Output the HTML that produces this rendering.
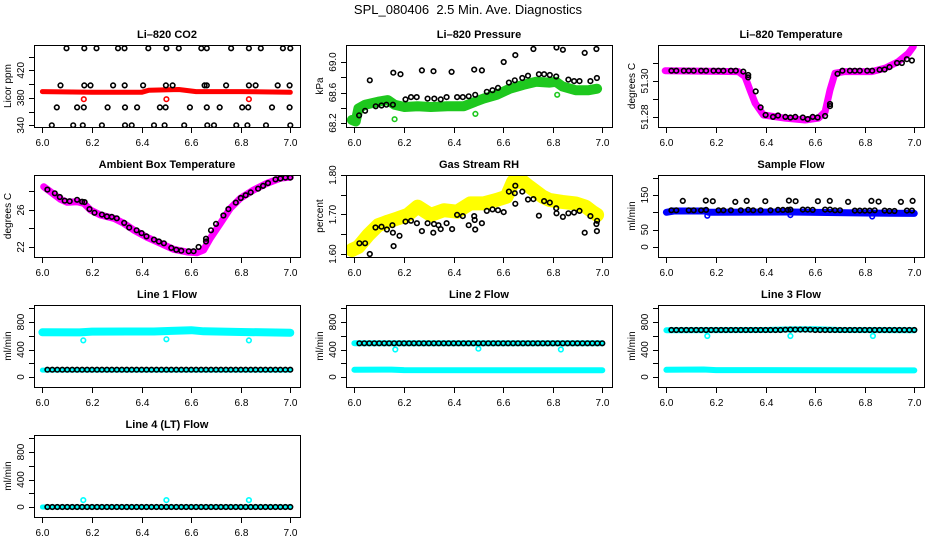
<!DOCTYPE html>
<html><head><meta charset="utf-8"><style>
html,body{margin:0;padding:0;background:#fff;}
svg{display:block;font-family:"Liberation Sans",sans-serif;}
</style></head><body>
<svg id="chart" width="936" height="540" viewBox="0 0 936 540">
<text x="468" y="14" font-size="13" text-anchor="middle" style="white-space:pre" xml:space="preserve">SPL_080406  2.5 Min. Ave. Diagnostics</text>
</svg>
<script>
// ---------- shared axis data ----------
const xTicks = [6.0, 6.2, 6.4, 6.6, 6.8, 7.0];
const xTickLabels = ["6.0", "6.2", "6.4", "6.6", "6.8", "7.0"];

// ---------- Li-820 CO2 ----------
const co2BlackX = [6.097,6.169,6.218,6.305,6.331,6.427,6.500,6.550,6.641,6.663,6.761,6.833,6.881,6.970,7.000,
  6.073,6.169,6.194,6.285,6.332,6.406,6.498,6.525,6.654,6.663,6.741,6.833,6.860,6.949,6.997,
  6.058,6.140,6.167,6.263,6.333,6.382,6.474,6.497,6.595,6.663,6.715,6.806,6.830,6.926,6.997,
  6.038,6.124,6.163,6.240,6.333,6.360,6.450,6.493,6.572,6.665,6.692,6.782,6.827,6.902,7.000];
const co2BlackY = [452,452,452,452,452,452,452,452,452,452,452,452,452,452,452,
  398,398,398,398,398,398,398,398,398,398,398,398,398,398,398,
  366,366,366,366,366,366,366,366,366,366,366,366,366,366,366,
  340,340,340,340,340,340,340,340,340,340,340,340,340,340,340];
const co2BandX = [6.0, 6.2, 6.4, 6.43, 6.55, 6.62, 6.8, 7.0];
const co2BandY = [389, 388, 388, 391, 392, 389, 389, 388];
const co2OutX = [6.167, 6.5, 6.833];
const co2OutY = [378, 378, 378];

// ---------- Li-820 Pressure ----------
const presBandX = [5.99,6.005,6.016,6.043,6.096,6.135,6.162,6.202,6.255,6.308,6.375,6.441,6.487,6.521,6.574,6.627,6.680,6.733,6.786,6.813,6.839,6.892,6.945,6.979];
const presBandY = [68.24,68.22,68.39,68.44,68.48,68.50,68.44,68.41,68.42,68.41,68.42,68.42,68.48,68.52,68.57,68.65,68.70,68.74,68.73,68.74,68.68,68.63,68.63,68.65];
const presBlackX = [6.019,6.043,6.062,6.086,6.109,6.129,6.155,6.157,6.186,6.206,6.228,6.251,6.272,6.295,6.319,6.322,6.348,6.372,6.392,6.414,6.437,6.461,6.483,6.487,6.514,6.534,6.557,6.579,6.602,6.623,6.647,6.649,6.677,6.700,6.722,6.744,6.765,6.788,6.814,6.815,6.841,6.863,6.886,6.908,6.929,6.952,6.976,6.978];
const presBlackY = [68.30,68.36,68.76,68.42,68.43,68.44,68.44,68.86,68.84,68.51,68.54,68.54,68.89,68.52,68.88,68.52,68.51,68.54,68.87,68.54,68.54,68.55,68.90,68.57,68.89,68.61,68.63,68.66,69.00,68.73,68.76,69.09,68.79,68.82,69.17,68.84,68.84,68.83,68.81,69.19,69.16,68.77,68.75,68.75,69.12,68.75,69.17,68.79];
const presOutX = [6.162, 6.488, 6.818];
const presOutY = [68.25, 68.32, 68.57];

// ---------- Li-820 Temperature ----------
const tempBandX = [5.995,6.290,6.317,6.337,6.358,6.391,6.479,6.559,6.613,6.640,6.660,6.680,6.720,6.828,6.882,6.935,6.976,6.996];
const tempBandY = [51.3057,51.3052,51.3024,51.2950,51.2876,51.2811,51.2793,51.2783,51.2793,51.2829,51.2950,51.3043,51.3052,51.3052,51.3071,51.3107,51.3154,51.3191];
const tempBlackX = [6.02,6.04,6.07,6.09,6.11,6.14,6.16,6.19,6.21,6.23,6.26,6.28,6.31,6.33,6.33,6.36,6.38,6.40,6.43,6.45,6.48,6.50,6.52,6.55,6.57,6.59,6.61,6.64,6.66,6.66,6.69,6.71,6.74,6.76,6.78,6.81,6.83,6.86,6.88,6.90,6.93,6.95,6.97,6.99];
const tempBlackY = [51.3057,51.3057,51.3057,51.3057,51.3057,51.3057,51.3057,51.3057,51.3057,51.3057,51.3057,51.3057,51.3052,51.3033,51.3020,51.2942,51.2853,51.2811,51.2800,51.2808,51.2800,51.2797,51.2800,51.2797,51.2788,51.2800,51.2797,51.2805,51.2872,51.2860,51.3040,51.3057,51.3057,51.3057,51.3057,51.3057,51.3057,51.3062,51.3064,51.3077,51.3100,51.3100,51.3121,51.3114];

// ---------- Ambient Box Temperature ----------
const ambBandX = [6.005,6.032,6.073,6.100,6.140,6.167,6.194,6.234,6.288,6.328,6.368,6.422,6.476,6.529,6.583,6.624,6.650,6.677,6.718,6.758,6.798,6.852,6.906,6.960,7.000];
const ambBandY = [28.52,27.98,27.15,26.83,26.90,26.72,26.00,25.46,25.10,24.56,23.84,23.05,22.40,21.75,21.46,21.38,21.68,22.94,24.56,26.18,27.26,28.16,28.88,29.43,29.54];
const ambBlackX = [6.02,6.05,6.07,6.09,6.11,6.14,6.16,6.17,6.19,6.21,6.24,6.26,6.28,6.30,6.33,6.35,6.38,6.40,6.42,6.45,6.47,6.49,6.52,6.54,6.56,6.59,6.61,6.63,6.66,6.66,6.68,6.70,6.73,6.75,6.78,6.80,6.82,6.84,6.87,6.89,6.91,6.94,6.96,6.98,7.00];
const ambBlackY = [28.2,27.8,27.4,27.0,26.95,27.1,26.9,26.85,26.1,25.7,25.5,25.3,25.25,25.1,24.6,24.1,23.8,23.5,23.15,22.8,22.6,22.4,21.9,21.7,21.6,21.55,21.55,22.0,22.6,22.9,23.8,24.5,25.4,26.1,26.8,27.3,27.6,27.9,28.3,28.6,28.9,29.3,29.4,29.5,29.5];

// ---------- Gas Stream RH ----------
const rhBandX = [5.99,6.016,6.056,6.096,6.135,6.175,6.215,6.255,6.308,6.361,6.414,6.467,6.521,6.574,6.614,6.640,6.680,6.706,6.760,6.786,6.839,6.892,6.932,6.959,6.979];
const rhBandY = [1.610,1.618,1.648,1.673,1.682,1.690,1.699,1.720,1.699,1.711,1.707,1.728,1.728,1.737,1.745,1.783,1.783,1.770,1.745,1.737,1.732,1.728,1.720,1.707,1.699];
const rhBlackX = [6.020,6.043,6.062,6.085,6.109,6.131,6.153,6.155,6.158,6.182,6.206,6.228,6.252,6.272,6.295,6.318,6.321,6.339,6.348,6.372,6.394,6.414,6.437,6.461,6.483,6.485,6.487,6.514,6.534,6.557,6.579,6.602,6.623,6.647,6.649,6.649,6.677,6.700,6.722,6.744,6.765,6.788,6.814,6.815,6.841,6.863,6.886,6.908,6.929,6.952,6.976,6.978,6.979];
const rhBlackY = [1.627,1.627,1.600,1.667,1.669,1.662,1.673,1.654,1.620,1.646,1.682,1.684,1.678,1.658,1.678,1.654,1.676,1.673,1.663,1.678,1.663,1.699,1.696,1.673,1.696,1.686,1.662,1.678,1.709,1.713,1.711,1.706,1.758,1.754,1.773,1.727,1.758,1.738,1.739,1.697,1.734,1.730,1.716,1.703,1.694,1.703,1.705,1.709,1.654,1.696,1.676,1.658,1.684];

// ---------- Sample Flow ----------
const sfBandX = [6.0, 6.03, 6.16, 6.17, 6.5, 6.8, 7.0];
const sfBandY = [100, 104, 104, 100, 101, 98, 97];
const sfHighX = [6.066,6.159,6.187,6.278,6.324,6.399,6.494,6.521,6.611,6.659,6.733,6.827,6.856,6.946,6.993];
const sfHighY = [133,134,132,130,133,132,134,132,132,133,130,133,131,130,133];
const sfLowX = [6.02,6.04,6.09,6.11,6.14,6.16,6.21,6.23,6.26,6.30,6.33,6.35,6.38,6.42,6.45,6.47,6.49,6.50,6.55,6.57,6.59,6.64,6.66,6.68,6.70,6.76,6.78,6.80,6.82,6.84,6.88,6.90,6.92,6.97,6.99];
const sfLowY = [106,106,106,106,106,107,106,106,106,106,107,106,106,106,107,107,107,108,108,108,107,108,108,106,106,105,105,105,105,106,105,104,104,105,105];
const sfOutX = [6.165, 6.50, 6.83];
const sfOutY = [90, 92, 88];

// ---------- Line flows ----------
const flowTimes = [6.02,6.04,6.06,6.08,6.10,6.12,6.14,6.16,6.18,6.20,6.22,6.24,6.26,6.28,6.30,6.32,6.34,6.36,6.38,6.40,6.42,6.44,6.46,6.48,6.50,6.52,6.54,6.56,6.58,6.60,6.62,6.64,6.66,6.68,6.70,6.72,6.74,6.76,6.78,6.80,6.82,6.84,6.86,6.88,6.90,6.92,6.94,6.96,6.98,7.00];
const line1Black = [107,107,107,107,107,107,107,107,107,107,107,107,107,107,107,107,107,107,107,107,107,107,107,107,107,107,107,107,107,107,107,107,107,107,107,107,107,107,107,107,107,107,107,107,107,107,107,107,107,107];
const line2Black = [490,490,490,490,490,490,490,490,490,490,490,490,490,490,490,490,490,490,490,490,490,490,490,490,490,490,490,490,490,490,490,490,490,490,490,490,490,490,490,490,490,490,490,490,490,490,490,490,490,490];
const line3Black = [684,684,684,684,684,684,684,684,684,684,684,684,684,684,684,684,684,684,684,684,684,684,684,688,690,690,690,690,688,684,684,684,684,684,684,684,684,684,684,684,684,684,684,684,684,684,684,684,684,684];
const line4Black = [0,0,0,0,0,0,0,0,0,0,0,0,0,0,0,0,0,0,0,0,0,0,0,0,0,0,0,0,0,0,0,0,0,0,0,0,0,0,0,0,0,0,0,0,0,0,0,0,0,0];
const line1UpX = [6.0, 6.15, 6.2, 6.45, 6.52, 6.6, 6.65, 6.8, 7.0];
const line1UpY = [650, 648, 660, 662, 670, 680, 665, 655, 645];
const line1LowX = [6.0, 7.0];
const line1LowY = [100, 100];
const line2UpX = [6.0, 7.0];
const line2UpY = [490, 490];
const line2LowX = [6.0, 6.15, 6.2, 7.0];
const line2LowY = [105, 108, 100, 98];
const line3UpX = [6.0, 6.4, 6.5, 6.6, 6.7, 7.0];
const line3UpY = [680, 684, 692, 695, 684, 680];
const line3LowX = [6.0, 6.15, 6.2, 7.0];
const line3LowY = [105, 110, 100, 97];
const line4BandX = [6.0, 7.0];
const line4BandY = [0, 0];
const outTimes = [6.165, 6.50, 6.833];
const line1Out = [533, 548, 533];
const line2Out = [400, 412, 400];
const line3Out = [596, 596, 596];
const line4Out = [100, 100, 100];

// ---------- rendering ----------
const NS = "http://www.w3.org/2000/svg";
const svg = document.getElementById("chart");
const BW = 266, BH = 82, XMIN = 5.966, XMAX = 7.039;

function mk(tag, attrs, parent) {
  const e = document.createElementNS(NS, tag);
  for (const k in attrs) e.setAttribute(k, attrs[k]);
  parent.appendChild(e);
  return e;
}

function drawPanel(p) {
  const g = mk("g", {}, svg);
  
  
  const sx = v => p.bx + (v - XMIN) / (XMAX - XMIN) * BW;
  const sy = v => p.by + BH - (v - p.y0) / (p.y1 - p.y0) * BH;

  const clip = mk("clipPath", {id: "clip-" + p.name}, g);
  mk("rect", {x: p.bx, y: p.by, width: BW, height: BH}, clip);
  const plot = mk("g", {"clip-path": "url(#clip-" + p.name + ")"}, g);
  
  

  (p.bands || []).forEach(b => {
    const pts = b.xs.map((x, i) => sx(x).toFixed(1) + "," + sy(b.ys[i]).toFixed(1)).join(" ");
    const pl = mk("polyline", {points: pts, fill: "none", stroke: b.color, "stroke-width": b.w, "stroke-linejoin": "round", "stroke-linecap": "round"}, plot);
    
    
  });
  (p.points || []).forEach(s => {
    s.xs.forEach((x, i) => {
      const c = mk("circle", {cx: sx(x).toFixed(1), cy: sy(s.ys[i]).toFixed(1), r: 2.3, fill: "none", stroke: s.color, "stroke-width": 1.6}, plot);
      
      
    });
  });

  const box = mk("rect", {x: p.bx + 0.5, y: p.by + 0.5, width: BW, height: BH, fill: "none", stroke: "#000", "stroke-width": 1}, g);
  
  

  xTicks.forEach((t, i) => {
    const x = Math.round(sx(t)) + 0.5;
    const tk = mk("line", {x1: x, x2: x, y1: p.by + BH + 1, y2: p.by + BH + 6, stroke: "#000"}, g);
    
    
    const tl = mk("text", {x: x, y: p.by + BH + 19, "font-size": 10, "text-anchor": "middle"}, g);
    tl.textContent = xTickLabels[i];
    
    
  });
  p.yTicks.forEach(t => {
    const y = Math.round(sy(t)) + 0.5;
    const tk = mk("line", {x1: p.bx - 5, x2: p.bx, y1: y, y2: y, stroke: "#000"}, g);
    
    
  });
  p.yLabels.forEach((t, i) => {
    const y = sy(t), x = p.bx - 10;
    const tl = mk("text", {x: x, y: y, "font-size": 10, "text-anchor": "middle", transform: "rotate(-90 " + x + " " + y + ")"}, g);
    tl.textContent = p.yLabelText[i];
    
    
  });
  const yt = p.bx - 23, ym = p.by + BH / 2;
  const ytl = mk("text", {x: yt, y: ym, "font-size": 10, "text-anchor": "middle", transform: "rotate(-90 " + yt + " " + ym + ")"}, g);
  ytl.textContent = p.ytitle;
  
  
  const tt = mk("text", {x: p.bx + BW / 2, y: p.by - 7, "font-size": 11, "font-weight": "bold", "text-anchor": "middle"}, g);
  tt.textContent = p.title;
  
  
}

const C = [34, 346, 658], R = [45, 175, 305, 435];
const flowTicks = [0, 200, 400, 600, 800, 1000];
const flowLab = [0, 400, 800], flowLabT = ["0", "400", "800"];

drawPanel({name: "co2-panel", title: "Li\u2013820 CO2", ytitle: "Licor ppm", bx: C[0], by: R[0], y0: 337.5, y1: 456.8,
  yTicks: [340, 360, 380, 400, 420, 440], yLabels: [340, 380, 420], yLabelText: ["340", "380", "420"],
  bands: [{xs: co2BandX, ys: co2BandY, color: "#ff0000", w: 5, label: "co2-band"}],
  points: [{xs: co2OutX, ys: co2OutY, color: "#ff0000", label: "co2-outlier"}, {xs: co2BlackX, ys: co2BlackY, color: "#000", label: "co2-point"}]});

drawPanel({name: "pressure-panel", title: "Li\u2013820 Pressure", ytitle: "kPa", bx: C[1], by: R[0], y0: 68.148, y1: 69.223,
  yTicks: [68.2, 68.4, 68.6, 68.8, 69.0], yLabels: [68.2, 68.6, 69.0], yLabelText: ["68.2", "68.6", "69.0"],
  bands: [{xs: presBandX, ys: presBandY, color: "#1ec81e", w: 10, label: "pressure-band"}],
  points: [{xs: presOutX, ys: presOutY, color: "#1ec81e", label: "pressure-outlier"}, {xs: presBlackX, ys: presBlackY, color: "#000", label: "pressure-point"}]});

drawPanel({name: "temperature-panel", title: "Li\u2013820 Temperature", ytitle: "degrees C", bx: C[2], by: R[0], y0: 51.2744, y1: 51.32,
  yTicks: [51.28, 51.29, 51.30, 51.31], yLabels: [51.28, 51.30], yLabelText: ["51.28", "51.30"],
  bands: [{xs: tempBandX, ys: tempBandY, color: "#ff00ff", w: 7, label: "temperature-band"}],
  points: [{xs: tempBlackX, ys: tempBlackY, color: "#000", label: "temperature-point"}]});

drawPanel({name: "ambient-panel", title: "Ambient Box Temperature", ytitle: "degrees C", bx: C[0], by: R[1], y0: 20.92, y1: 29.78,
  yTicks: [22, 24, 26, 28], yLabels: [22, 26], yLabelText: ["22", "26"],
  bands: [{xs: ambBandX, ys: ambBandY, color: "#ff00ff", w: 7, label: "ambient-band"}],
  points: [{xs: ambBlackX, ys: ambBlackY, color: "#000", label: "ambient-point"}]});

drawPanel({name: "rh-panel", title: "Gas Stream RH", ytitle: "percent", bx: C[1], by: R[1], y0: 1.5924, y1: 1.80,
  yTicks: [1.60, 1.65, 1.70, 1.75, 1.80], yLabels: [1.60, 1.70, 1.80], yLabelText: ["1.60", "1.70", "1.80"],
  bands: [{xs: rhBandX, ys: rhBandY, color: "#ffff00", w: 14, label: "rh-band"}],
  points: [{xs: rhBlackX, ys: rhBlackY, color: "#000", label: "rh-point"}]});

drawPanel({name: "sample-flow-panel", title: "Sample Flow", ytitle: "ml/min", bx: C[2], by: R[1], y0: -28.8, y1: 207.7,
  yTicks: [0, 50, 100, 150, 200], yLabels: [0, 50, 150], yLabelText: ["0", "50", "150"],
  bands: [{xs: sfBandX, ys: sfBandY, color: "#0000ff", w: 7, label: "sample-flow-band"}],
  points: [{xs: sfOutX, ys: sfOutY, color: "#0000ff", label: "sample-flow-outlier"}, {xs: sfHighX, ys: sfHighY, color: "#000", label: "sample-flow-point"}, {xs: sfLowX, ys: sfLowY, color: "#000", label: "sample-flow-point"}]});

drawPanel({name: "line1-panel", title: "Line 1 Flow", ytitle: "ml/min", bx: C[0], by: R[2], y0: -145, y1: 1047,
  yTicks: flowTicks, yLabels: flowLab, yLabelText: flowLabT,
  bands: [{xs: line1UpX, ys: line1UpY, color: "#00ffff", w: 8, label: "line1-band"}, {xs: line1LowX, ys: line1LowY, color: "#00ffff", w: 5, label: "line1-low-band"}],
  points: [{xs: outTimes, ys: line1Out, color: "#00ffff", label: "line1-outlier"}, {xs: flowTimes, ys: line1Black, color: "#000", label: "line1-point"}]});

drawPanel({name: "line2-panel", title: "Line 2 Flow", ytitle: "ml/min", bx: C[1], by: R[2], y0: -145, y1: 1047,
  yTicks: flowTicks, yLabels: flowLab, yLabelText: flowLabT,
  bands: [{xs: line2UpX, ys: line2UpY, color: "#00ffff", w: 6, label: "line2-band"}, {xs: line2LowX, ys: line2LowY, color: "#00ffff", w: 6, label: "line2-low-band"}],
  points: [{xs: outTimes, ys: line2Out, color: "#00ffff", label: "line2-outlier"}, {xs: flowTimes, ys: line2Black, color: "#000", label: "line2-point"}]});

drawPanel({name: "line3-panel", title: "Line 3 Flow", ytitle: "ml/min", bx: C[2], by: R[2], y0: -145, y1: 1047,
  yTicks: flowTicks, yLabels: flowLab, yLabelText: flowLabT,
  bands: [{xs: line3UpX, ys: line3UpY, color: "#00ffff", w: 6, label: "line3-band"}, {xs: line3LowX, ys: line3LowY, color: "#00ffff", w: 6, label: "line3-low-band"}],
  points: [{xs: outTimes, ys: line3Out, color: "#00ffff", label: "line3-outlier"}, {xs: flowTimes, ys: line3Black, color: "#000", label: "line3-point"}]});

drawPanel({name: "line4-panel", title: "Line 4 (LT) Flow", ytitle: "ml/min", bx: C[0], by: R[3], y0: -145, y1: 1047,
  yTicks: flowTicks, yLabels: flowLab, yLabelText: flowLabT,
  bands: [{xs: line4BandX, ys: line4BandY, color: "#00ffff", w: 5, label: "line4-band"}],
  points: [{xs: outTimes, ys: line4Out, color: "#00ffff", label: "line4-outlier"}, {xs: flowTimes, ys: line4Black, color: "#000", label: "line4-point"}]});
</script>
</body></html>
